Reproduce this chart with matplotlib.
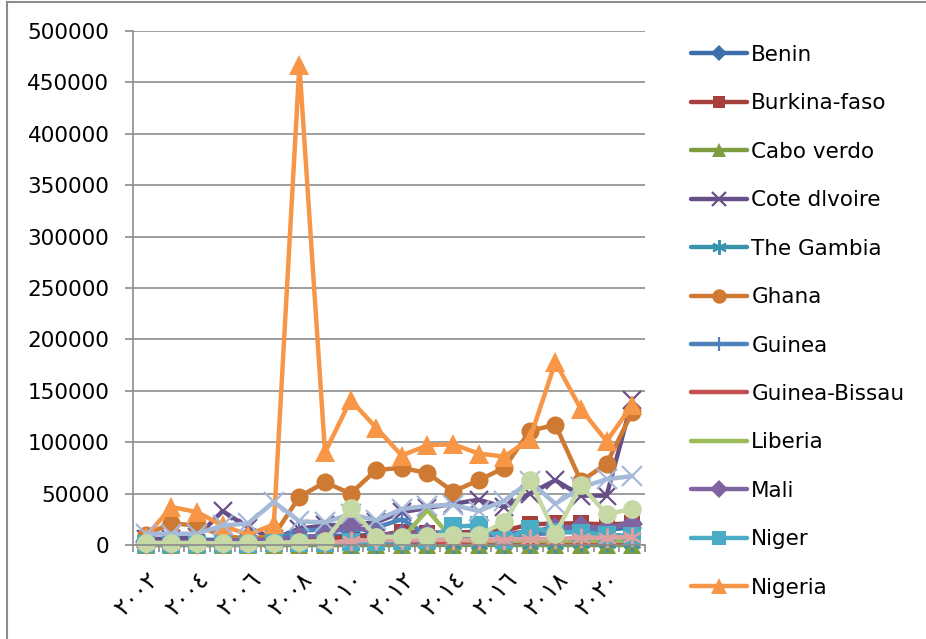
import matplotlib
matplotlib.use('Agg')
import matplotlib.pyplot as plt
from matplotlib.lines import Line2D
import numpy as np

years = list(range(2002, 2022))
year_labels = ['٢٠٠٢', '٢٠٠٤', '٢٠٠٦', '٢٠٠٨', '٢٠١٠', '٢٠١٢', '٢٠١٤', '٢٠١٦', '٢٠١٨', '٢٠٢٠']

benin = [5000, 5000, 5000, 5000, 6000, 7000, 8000, 9000, 9000, 10000, 11000, 11000, 12000, 12000, 11000, 12000, 13000, 14000, 15000, 17000]
burkina = [3000, 3000, 3000, 3000, 4000, 4000, 5000, 6000, 8000, 9000, 13000, 12000, 12000, 13000, 14000, 20000, 21000, 21000, 20000, 21000]
cabo = [200, 200, 200, 200, 200, 200, 200, 200, 200, 200, 200, 200, 200, 200, 200, 200, 200, 200, 200, 200]
cote = [6000, 6000, 8000, 33000, 17000, 6000, 16000, 19000, 20000, 22000, 32000, 36000, 40000, 44000, 37000, 50000, 63000, 48000, 48000, 141000]
gambia = [800, 800, 800, 900, 900, 1000, 1000, 1000, 1100, 1100, 1200, 1200, 1200, 1300, 1300, 1400, 1400, 1500, 1500, 1600]
ghana = [10000, 21000, 19000, 9000, 6000, 9000, 47000, 61000, 50000, 73000, 75000, 70000, 52000, 63000, 75000, 111000, 117000, 62000, 79000, 129000]
guinea = [2000, 2000, 2000, 2000, 2000, 6000, 14000, 15000, 14000, 17000, 25000, 10000, 9000, 9000, 10000, 10000, 12000, 13000, 16000, 22000]
guinea_bissau = [1500, 1500, 1500, 1500, 1500, 1500, 1500, 1500, 1500, 1500, 1500, 1500, 1500, 1500, 1500, 1500, 1500, 1500, 1500, 1500]
liberia = [1000, 1000, 1000, 1000, 1000, 1000, 1500, 2000, 3000, 4000, 6000, 34000, 5000, 4000, 4000, 4000, 4000, 4000, 4000, 4000]
mali = [3000, 3000, 3000, 4000, 5000, 5000, 8000, 9000, 20000, 10000, 10000, 12000, 11000, 10000, 11000, 13000, 17000, 18000, 17000, 20000]
niger = [1000, 1000, 1000, 1000, 1000, 2000, 2000, 2000, 3000, 3000, 4000, 5000, 18000, 19000, 5000, 16000, 13000, 12000, 10000, 9000]
nigeria = [8000, 37000, 32000, 19000, 10000, 20000, 467000, 90000, 141000, 114000, 87000, 97000, 98000, 89000, 86000, 103000, 178000, 132000, 101000, 136000]
senegal = [11000, 11000, 11000, 19000, 21000, 42000, 23000, 22000, 30000, 24000, 35000, 38000, 39000, 33000, 43000, 62000, 40000, 56000, 64000, 67000]
sierra = [1000, 1000, 1000, 1000, 1000, 1000, 1500, 2000, 4000, 5000, 5000, 5000, 5000, 5000, 5000, 6000, 6000, 7000, 7000, 8000]
togo = [2000, 2000, 2000, 1500, 1500, 2000, 3000, 4000, 36000, 8000, 8000, 9000, 10000, 10000, 22000, 63000, 11000, 58000, 30000, 35000]

# name, values, line colour, marker, marker size, in legend
series = [
    ('Benin', benin, '#3F6FAA', 'D', 10, True),
    ('Burkina-faso', burkina, '#A5403D', 's', 11, True),
    ('Cabo verdo', cabo, '#7E9D40', '^', 13, True),
    ('Cote dlvoire', cote, '#674F88', 'x', 13, True),
    ('The Gambia', gambia, '#3A93AC', (6, 2, 0), 13, True),
    ('Ghana', ghana, '#CF7A32', 'o', 13, True),
    ('Guinea', guinea, '#4F81BD', '+', 13, True),
    ('Guinea-Bissau', guinea_bissau, '#C0504D', None, 0, True),
    ('Liberia', liberia, '#9BBB59', None, 0, True),
    ('Mali', mali, '#8064A2', 'D', 11, True),
    ('Niger', niger, '#4BACC6', 's', 13, True),
    ('Nigeria', nigeria, '#F79646', '^', 14, True),
    ('Senegal', senegal, '#A5B9D9', 'x', 14, False),
    ('Sierra Leone', sierra, '#DDA09E', (6, 2, 0), 14, False),
    ('Togo', togo, '#C6D9A5', 'o', 13.5, False),
]

plt.rcParams['font.family'] = ['DejaVu Sans', 'Noto Sans']

fig = plt.figure(figsize=(9.26, 6.39), dpi=100)
ax = fig.add_axes([133 / 926, 1 - 545 / 639, 512 / 926, 514 / 639])

x = np.arange(len(years))
handles = []
for name, vals, col, mk, ms, show in series:
    mew = 1.6 if mk in ('x', '+') or isinstance(mk, tuple) else 0
    ln, = ax.plot(x, vals, color=col, lw=3.2, marker=mk, markersize=ms,
                  markerfacecolor=col, markeredgecolor=col, markeredgewidth=mew,
                  solid_capstyle='round', solid_joinstyle='round', clip_on=False,
                  label=name)
    if show:
        # legend markers are a bit smaller than in the plot
        h = Line2D([], [], color=col, lw=3.2, marker=mk, markersize=ms * 0.8,
                   markerfacecolor=col, markeredgecolor=col, markeredgewidth=mew,
                   solid_capstyle='round', label=name)
        handles.append(h)

ax.set_xlim(-0.5, len(years) - 0.5)
ax.set_ylim(0, 500000)
ax.set_yticks(np.arange(0, 500001, 50000))
ax.set_yticklabels([str(v) for v in range(0, 500001, 50000)], fontsize=15.5)
ax.yaxis.grid(True, color='#8C8C8C', lw=1.2)
ax.set_axisbelow(True)

ax.set_xticks(x[::2])
ax.set_xticklabels(year_labels, rotation=45, ha='right', va='top',
                   rotation_mode='anchor', fontsize=17)
ax.set_xticks(np.arange(-0.5, len(years), 1), minor=True)
ax.tick_params(axis='x', which='major', length=0, pad=16)
ax.tick_params(axis='x', which='minor', length=5, color='#8C8C8C', width=1.2)
ax.tick_params(axis='y', length=6, color='#8C8C8C', width=1.2, pad=11)

for s in ('top', 'right'):
    ax.spines[s].set_visible(False)
for s in ('left', 'bottom'):
    ax.spines[s].set_color('#8C8C8C')
    ax.spines[s].set_linewidth(1.2)

fig.legend(handles=handles, loc='upper left', bbox_to_anchor=(691 / 926, 1 - 45 / 639),
           frameon=False, fontsize=15.5, handlelength=2.6, handletextpad=0.2,
           labelspacing=1.32, borderpad=0, borderaxespad=0)

# chart area border: only the top and left edges are inside the picture
fig.add_artist(Line2D([7 / 926, 7 / 926], [0, 1 - 2 / 639], transform=fig.transFigure,
                      color='#8C8C8C', lw=1.5))
fig.add_artist(Line2D([7 / 926, 1], [1 - 2 / 639, 1 - 2 / 639], transform=fig.transFigure,
                      color='#8C8C8C', lw=1.5))

fig.savefig('out.png', dpi=100)
